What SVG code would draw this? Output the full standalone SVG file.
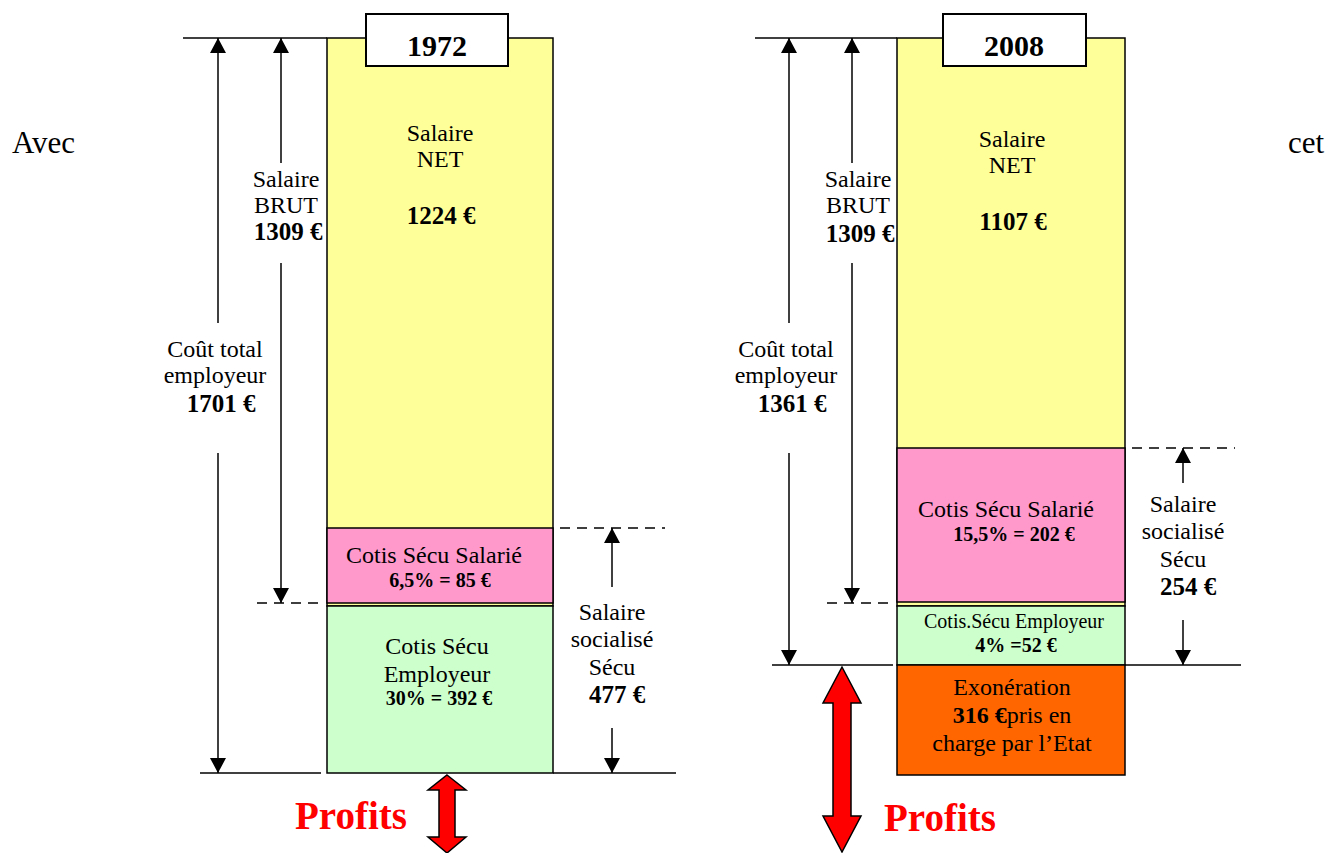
<svg xmlns="http://www.w3.org/2000/svg" width="1326" height="853" viewBox="0 0 1326 853">
<style>
text{font-family:"Liberation Serif","Times New Roman",serif;fill:#000;text-anchor:middle}
.r{font-size:24px}
.b{font-size:25px;font-weight:bold}
.sb{font-size:20px;font-weight:bold}
.s{font-size:20px}
.t{font-size:30px;font-weight:bold}
.p{font-size:39px;font-weight:bold;fill:#FF0000}
.side{font-size:31px;text-anchor:start}
.box{stroke:#000;stroke-width:1.5}
.ln{stroke:#000;stroke-width:1.5;fill:none}
.arr{stroke:#000;stroke-width:1.5;fill:none;marker-end:url(#ah)}
.dash{stroke:#000;stroke-width:1.5;fill:none;stroke-dasharray:10,7}
.red{fill:#FF0000;stroke:#000;stroke-width:1.5;stroke-linejoin:miter}
</style>
<defs>
<marker id="ah" markerWidth="16" markerHeight="16" refX="15" refY="8" orient="auto" markerUnits="userSpaceOnUse">
<path d="M0,0 L15,8 L0,16 z" fill="#000"/>
</marker>
</defs>
<rect width="1326" height="853" fill="#fff"/>

<text class="side" x="12" y="153">Avec</text>
<text class="side" x="1288" y="153">cet</text>

<!-- 1972 chart -->
<g id="net1972">
<rect class="box" x="327" y="38" width="226" height="568" fill="#FFFF99"/>
<text class="r" x="440" y="141">Salaire</text>
<text class="r" x="440" y="167">NET</text>
<text class="b" x="441" y="224">1224 €</text>
</g>
<g id="title1972">
<rect x="366" y="14" width="142" height="52" fill="#fff" stroke="#000" stroke-width="2"/>
<text class="t" x="437" y="56">1972</text>
</g>
<g id="salarie1972">
<rect class="box" x="327" y="528" width="226" height="75" fill="#FF99CC"/>
<text class="r" x="434" y="563">Cotis Sécu Salarié</text>
<text class="sb" x="440" y="587">6,5% = 85 €</text>
</g>
<g id="employeur1972">
<rect class="box" x="327" y="606" width="226" height="167" fill="#CCFFCC"/>
<text class="r" x="437" y="654">Cotis Sécu</text>
<text class="r" x="437" y="682">Employeur</text>
<text class="sb" x="439" y="705">30% = 392 €</text>
</g>
<g id="brut1972">
<text class="r" x="286" y="187">Salaire</text>
<text class="r" x="286" y="213">BRUT</text>
<text class="b" x="288" y="240">1309 €</text>
</g>
<g id="cout1972">
<text class="r" x="215" y="357">Coût total</text>
<text class="r" x="215" y="383">employeur</text>
<text class="b" x="221" y="412">1701 €</text>
</g>
<g id="social1972">
<text class="r" x="612" y="620">Salaire</text>
<text class="r" x="612" y="647">socialisé</text>
<text class="r" x="612" y="675">Sécu</text>
<text class="b" x="617" y="703">477 €</text>
</g>
<g id="profits1972">
<polygon class="red" points="447,775 466,790 455,790 455,837 466,837 447,853 428,837 439,837 439,790 428,790"/>
<text class="p" x="351" y="829">Profits</text>
</g>

<!-- 2008 chart -->
<g id="net2008">
<rect class="box" x="897" y="38" width="228" height="568" fill="#FFFF99"/>
<text class="r" x="1012" y="147">Salaire</text>
<text class="r" x="1012" y="173">NET</text>
<text class="b" x="1013" y="230">1107 €</text>
</g>
<g id="title2008">
<rect x="943" y="14" width="143" height="52" fill="#fff" stroke="#000" stroke-width="2"/>
<text class="t" x="1014" y="56">2008</text>
</g>
<g id="salarie2008">
<rect class="box" x="897" y="448" width="228" height="154" fill="#FF99CC"/>
<text class="r" x="1006" y="517">Cotis Sécu Salarié</text>
<text class="sb" x="1014" y="541">15,5% = 202 €</text>
</g>
<g id="employeur2008">
<rect class="box" x="897" y="606" width="228" height="59" fill="#CCFFCC"/>
<text class="s" x="1014" y="628">Cotis.Sécu Employeur</text>
<text class="sb" x="1016" y="652">4% =52 €</text>
</g>
<g id="exoneration2008">
<rect class="box" x="897" y="665" width="228" height="110" fill="#FF6600"/>
<text class="r" x="1012" y="695">Exonération</text>
<text class="r" x="1012" y="723"><tspan font-weight="bold">316 €</tspan>pris en</text>
<text class="r" x="1012" y="751">charge par l’Etat</text>
</g>
<g id="brut2008">
<text class="r" x="858" y="187">Salaire</text>
<text class="r" x="858" y="213">BRUT</text>
<text class="b" x="860" y="242">1309 €</text>
</g>
<g id="cout2008">
<text class="r" x="786" y="357">Coût total</text>
<text class="r" x="786" y="383">employeur</text>
<text class="b" x="792" y="412">1361 €</text>
</g>
<g id="social2008">
<text class="r" x="1183" y="512">Salaire</text>
<text class="r" x="1183" y="539">socialisé</text>
<text class="r" x="1183" y="567">Sécu</text>
<text class="b" x="1188" y="595">254 €</text>
</g>
<g id="profits2008">
<polygon class="red" points="842,667 861,703 851,703 851,816 861,816 842,852 823,816 833,816 833,703 823,703"/>
<text class="p" x="940" y="831">Profits</text>
</g>

<g id="connectors">
<line class="ln" x1="183" y1="38" x2="327" y2="38"/>
<line class="ln" x1="200" y1="773" x2="321" y2="773"/>
<line class="ln" x1="553" y1="773" x2="676" y2="773"/>
<line class="dash" x1="257" y1="603" x2="320" y2="603"/>
<line class="dash" x1="560" y1="528" x2="665" y2="528"/>
<line class="arr" x1="218" y1="323" x2="218" y2="38"/>
<line class="arr" x1="218" y1="453" x2="218" y2="773"/>
<line class="arr" x1="281" y1="163" x2="281" y2="38"/>
<line class="arr" x1="281" y1="263" x2="281" y2="603"/>
<line class="arr" x1="612" y1="587" x2="612" y2="528"/>
<line class="arr" x1="612" y1="728" x2="612" y2="773"/>

<line class="ln" x1="755" y1="38" x2="897" y2="38"/>
<line class="ln" x1="772" y1="665" x2="893" y2="665"/>
<line class="ln" x1="1125" y1="665" x2="1241" y2="665"/>
<line class="dash" x1="827" y1="603" x2="890" y2="603"/>
<line class="dash" x1="1132" y1="448" x2="1235" y2="448"/>
<line class="arr" x1="789" y1="323" x2="789" y2="38"/>
<line class="arr" x1="789" y1="453" x2="789" y2="665"/>
<line class="arr" x1="852" y1="163" x2="852" y2="38"/>
<line class="arr" x1="852" y1="263" x2="852" y2="603"/>
<line class="arr" x1="1183" y1="483" x2="1183" y2="448"/>
<line class="arr" x1="1183" y1="620" x2="1183" y2="665"/>
</g>
</svg>
